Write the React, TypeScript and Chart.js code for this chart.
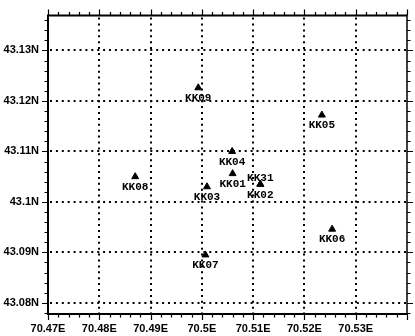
import React, { useEffect, useRef } from 'react';
import { Chart, registerables } from 'chart.js';

Chart.register(...registerables);

// ---- data ----
const stationNames = ['KK09', 'KK05', 'KK04', 'KK01', 'KK31', 'KK02', 'KK03', 'KK08', 'KK06', 'KK07'];
const longitudes = [70.4993, 70.5234, 70.5059, 70.5060, 70.5114, 70.5114, 70.5010, 70.4870, 70.5254, 70.5007];
const latitudes = [43.1226, 43.1172, 43.1100, 43.1056, 43.1035, 43.1035, 43.1030, 43.1050, 43.0946, 43.0895];
const labelAbove = [false, false, false, false, true, false, false, false, false, false];

const lonRange = [70.47, 70.54];
const latRange = [43.0778, 43.1369];
const majorStep = 0.01;
const minorStep = 0.002;

const isMajor = (v: number) => Math.abs(v / majorStep - Math.round(v / majorStep)) < 1e-6;

const framePlugin = {
  id: 'frame',
  beforeDatasetsDraw(chart: any) {
    const { ctx, chartArea: a, scales } = chart;
    const xs = scales.x;
    const ys = scales.y;
    ctx.save();
    ctx.strokeStyle = '#000';
    ctx.lineWidth = 2;
    ctx.setLineDash([2, 3.9]);
    // vertical dotted gridlines at major ticks
    xs.ticks.forEach((t: any) => {
      const px = Math.round(xs.getPixelForValue(t.value));
      if (px <= a.left + 2 || px >= a.right - 2) return;
      ctx.beginPath();
      ctx.moveTo(px, a.top + 2);
      ctx.lineTo(px, a.bottom);
      ctx.stroke();
    });
    ys.ticks.forEach((t: any) => {
      const py = Math.round(ys.getPixelForValue(t.value));
      if (py <= a.top + 2 || py >= a.bottom - 2) return;
      ctx.beginPath();
      ctx.moveTo(a.left + 2, py);
      ctx.lineTo(a.right, py);
      ctx.stroke();
    });
    ctx.setLineDash([]);

    // tick marks on all four sides
    ctx.lineWidth = 1.2;
    const kx0 = Math.ceil(lonRange[0] / minorStep - 1e-6);
    const kx1 = Math.floor(lonRange[1] / minorStep + 1e-6);
    for (let k = kx0; k <= kx1; k++) {
      const v = k * minorStep;
      const px = Math.round(xs.getPixelForValue(v)) + 0.5;
      const len = isMajor(v) ? 6 : 3.5;
      ctx.beginPath();
      ctx.moveTo(px, a.bottom);
      ctx.lineTo(px, a.bottom + len);
      ctx.moveTo(px, a.top);
      ctx.lineTo(px, a.top - len);
      ctx.stroke();
    }
    const ky0 = Math.ceil(latRange[0] / minorStep - 1e-6);
    const ky1 = Math.floor(latRange[1] / minorStep + 1e-6);
    for (let k = ky0; k <= ky1; k++) {
      const v = k * minorStep;
      const py = Math.round(ys.getPixelForValue(v)) + 0.5;
      const len = isMajor(v) ? 6 : 3.5;
      ctx.beginPath();
      ctx.moveTo(a.left, py);
      ctx.lineTo(a.left - len, py);
      ctx.moveTo(a.right, py);
      ctx.lineTo(a.right + len, py);
      ctx.stroke();
    }

    // frame
    ctx.lineWidth = 2;
    ctx.beginPath();
    ctx.moveTo(a.left, a.top);
    ctx.lineTo(a.right, a.top);
    ctx.moveTo(a.left, a.top - 1);
    ctx.lineTo(a.left, a.bottom + 1);
    ctx.moveTo(a.left - 1, a.bottom);
    ctx.lineTo(a.right + 1, a.bottom);
    ctx.stroke();
    ctx.lineWidth = 1.5;
    ctx.beginPath();
    ctx.moveTo(a.right, a.top - 1);
    ctx.lineTo(a.right, a.bottom + 1);
    ctx.stroke();
    ctx.restore();
  },
  afterDatasetsDraw(chart: any) {
    const { ctx } = chart;
    const meta = chart.getDatasetMeta(0);
    ctx.save();
    ctx.fillStyle = '#000';
    ctx.font = 'bold 11px "Liberation Mono", "Courier New", monospace';
    ctx.textAlign = 'center';
    ctx.textBaseline = 'middle';
    meta.data.forEach((el: any, i: number) => {
      const dy = labelAbove[i] ? -6.5 : 10.5;
      ctx.fillText(stationNames[i], el.x, el.y + dy);
    });
    ctx.restore();
  },
};

export default function App() {
  const ref = useRef<HTMLCanvasElement>(null);
  useEffect(() => {
    if (!ref.current) return;
    const tickFont = { family: '"Liberation Sans", Arial, sans-serif', size: 11, weight: 'bold' as const };
    const chart = new Chart(ref.current, {
      type: 'scatter',
      data: {
        datasets: [
          {
            data: stationNames.map((_, i) => ({ x: longitudes[i], y: latitudes[i] })),
            pointStyle: 'triangle',
            pointRadius: 4,
            pointHoverRadius: 4,
            backgroundColor: '#000',
            borderColor: '#000',
            borderWidth: 1,
            showLine: false,
          },
        ],
      },
      options: {
        responsive: false,
        animation: false,
        devicePixelRatio: 1,
        layout: { padding: { top: 13, right: 8, left: 0, bottom: 0 } },
        plugins: { legend: { display: false }, tooltip: { enabled: false } },
        scales: {
          x: {
            type: 'linear',
            position: 'bottom',
            min: lonRange[0],
            max: lonRange[1],
            grid: { display: false, drawTicks: false },
            border: { display: false },
            ticks: {
              stepSize: majorStep,
              autoSkip: false,
              maxRotation: 0,
              includeBounds: false,
              padding: 8,
              color: '#000',
              font: tickFont,
              callback: (v: any) => (v > lonRange[1] - 0.001 ? '' : `${Number(Number(v).toFixed(2))}E`),
            },
            afterFit: (s: any) => {
              s.height = 22;
            },
          },
          y: {
            type: 'linear',
            position: 'left',
            min: latRange[0],
            max: latRange[1],
            grid: { display: false, drawTicks: false },
            border: { display: false },
            ticks: {
              stepSize: majorStep,
              autoSkip: false,
              includeBounds: false,
              padding: 9,
              color: '#000',
              font: tickFont,
              callback: (v: any) => `${Number(Number(v).toFixed(2))}N`,
            },
            afterFit: (s: any) => {
              s.width = 48;
            },
          },
        },
      },
      plugins: [framePlugin],
    });
    return () => chart.destroy();
  }, []);
  return (
    <div style={{ position: 'absolute', left: 0, top: 0, width: 415, height: 336, background: '#fff' }}>
      <canvas ref={ref} width={415} height={336} style={{ display: 'block' }} />
    </div>
  );
}
